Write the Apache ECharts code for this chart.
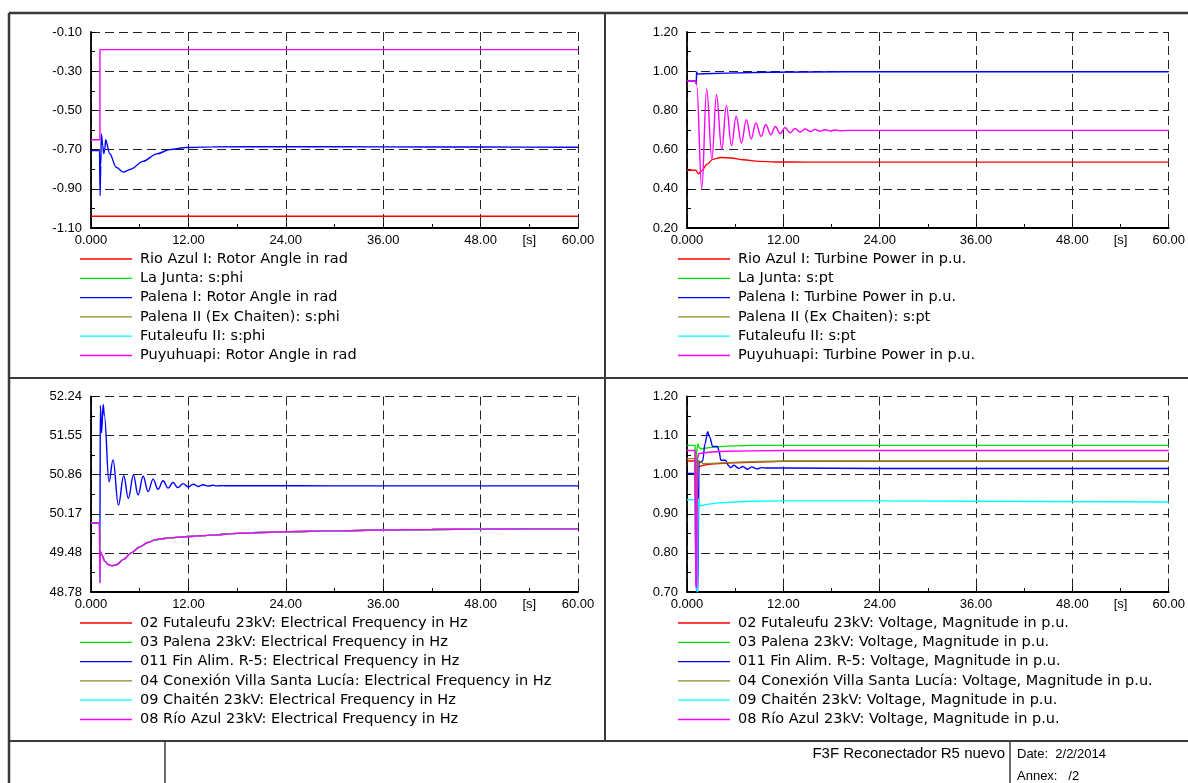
<!DOCTYPE html>
<html><head><meta charset="utf-8">
<script src="https://cdn.jsdelivr.net/npm/echarts@6/dist/echarts.min.js"></script>
<style>html,body{margin:0;padding:0;background:#fff}#c{width:1188px;height:783px}</style>
</head><body><div id="c"></div>
<script>
// ---------------- DATA ----------------
const xRange = [0, 60, 12];              // min, max, interval (s)
const yRangeTL = [-1.10, -0.10, 0.20];
const yRangeTR = [0.20, 1.20, 0.20];
const yRangeBL = [48.784, 52.24, 0.6912];
const yRangeBR = [0.70, 1.20, 0.10];

const colors = ['#ff0000', '#00e000', '#0000ff', '#8a8a20', '#00ffff', '#ff00ff'];

const namesTL = ['Rio Azul I: Rotor Angle in rad', 'La Junta: s:phi', 'Palena I: Rotor Angle in rad',
  'Palena II (Ex Chaiten): s:phi', 'Futaleufu II: s:phi', 'Puyuhuapi: Rotor Angle in rad'];
const namesTR = ['Rio Azul I: Turbine Power in p.u.', 'La Junta: s:pt', 'Palena I: Turbine Power in p.u.',
  'Palena II (Ex Chaiten): s:pt', 'Futaleufu II: s:pt', 'Puyuhuapi: Turbine Power in p.u.'];
const namesBL = ['02 Futaleufu 23kV: Electrical Frequency in Hz', '03 Palena 23kV: Electrical Frequency in Hz',
  '011 Fin Alim. R-5: Electrical Frequency in Hz', '04 Conexión Villa Santa Lucía: Electrical Frequency in Hz',
  '09 Chaitén 23kV: Electrical Frequency in Hz', '08 Río Azul 23kV: Electrical Frequency in Hz'];
const namesBR = ['02 Futaleufu 23kV: Voltage, Magnitude in p.u.', '03 Palena 23kV: Voltage, Magnitude in p.u.',
  '011 Fin Alim. R-5: Voltage, Magnitude in p.u.', '04 Conexión Villa Santa Lucía: Voltage, Magnitude in p.u.',
  '09 Chaitén 23kV: Voltage, Magnitude in p.u.', '08 Río Azul 23kV: Voltage, Magnitude in p.u.'];

// Top-left: rotor angles (rad)
const tlRedT = [0, 60];
const tlRedV = [-1.04, -1.04];
const tlBlueT = [0, 1.05, 1.12, 1.2, 1.28, 1.45, 1.57, 1.7, 1.8, 2.3, 3.1, 4.0, 4.9, 6.4, 8.1, 9.7, 11.8, 15, 24, 36, 48, 60];
const tlBlueV = [-0.705, -0.705, -0.935, -0.78, -0.62, -0.68, -0.72, -0.70, -0.65, -0.72, -0.79, -0.815, -0.80, -0.76, -0.722, -0.70, -0.689, -0.686, -0.685, -0.686, -0.687, -0.688];
const tlMagT = [0, 1.1, 1.1, 60];
const tlMagV = [-0.65, -0.65, -0.19, -0.19];

// Top-right: turbine power (p.u.)
const trRedT = [0, 1.1, 1.4, 1.8, 2.5, 3.2, 4.2, 5.5, 7, 9, 11, 15, 60];
const trRedV = [0.495, 0.495, 0.477, 0.49, 0.525, 0.55, 0.56, 0.557, 0.548, 0.54, 0.537, 0.536, 0.536];
const trBlueT = [0, 1.1, 1.15, 1.2, 1.3, 2, 5, 10, 20, 60];
const trBlueV = [0.95, 0.95, 0.935, 0.998, 0.985, 0.987, 0.99, 0.995, 0.997, 0.997];
const trMagT = [0, 1.1, 1.2, 1.84, 2.45, 3.1, 3.67, 4.33, 4.9, 5.55, 6.12, 6.78, 7.39, 8.0, 8.57, 9.23, 9.8, 10.45, 11.0, 11.6,
  12.2, 12.85, 13.45, 14.1, 14.7, 15.35, 15.95, 16.6, 17.2, 17.85, 18.45, 19.1, 20, 30, 60];
const trMagV = [0.95, 0.95, 0.93, 0.40, 0.91, 0.552, 0.88, 0.60, 0.824, 0.62, 0.77, 0.634, 0.752, 0.654, 0.736, 0.667, 0.727, 0.676, 0.718, 0.681,
  0.713, 0.686, 0.708, 0.69, 0.705, 0.692, 0.703, 0.694, 0.701, 0.695, 0.70, 0.696, 0.698, 0.698, 0.698];

// Bottom-left: electrical frequency (Hz)
const blSysT = [0, 1.05, 1.1, 1.15, 1.3, 1.7, 2.1, 2.6, 3.2, 4.0, 5.0, 6.0, 7.0, 8.0, 9.0, 10.5, 12, 15, 18, 24, 30, 36, 42, 48, 54, 60];
const blSysV = [50.0, 50.0, 48.95, 49.5, 49.45, 49.33, 49.27, 49.25, 49.27, 49.36, 49.48, 49.58, 49.66, 49.71, 49.73, 49.75, 49.765, 49.79, 49.82, 49.85, 49.865, 49.88, 49.89, 49.895, 49.9, 49.9];
const blBlueT = [0, 1.05, 1.1, 1.15, 1.3, 1.5, 1.65, 2.22, 2.71, 3.38, 4.03, 4.6, 5.23, 5.8, 6.42, 7.03, 7.65, 8.26, 8.88, 9.5, 10.1, 10.7,
  11.35, 12.0, 12.6, 13.2, 13.8, 14.4, 15.0, 15.6, 16.2, 17, 20, 30, 60];
const blBlueV = [50.0, 50.0, 49.65, 52.08, 51.6, 52.1, 51.9, 50.73, 51.12, 50.32, 50.84, 50.44, 50.85, 50.5, 50.83, 50.56, 50.78, 50.6, 50.75, 50.62, 50.72, 50.63,
  50.70, 50.64, 50.69, 50.65, 50.68, 50.655, 50.67, 50.66, 50.665, 50.662, 50.662, 50.66, 50.66];

// Bottom-right: voltage magnitude (p.u.)
const brRedT = [0, 1.0, 1.1, 1.25, 1.4, 2, 3, 5, 8, 12, 60];
const brRedV = [1.035, 1.035, 0.75, 1.0, 1.02, 1.024, 1.027, 1.03, 1.032, 1.034, 1.034];
const brGreenT = [0, 1.0, 1.1, 1.2, 1.35, 1.45, 1.7, 2.0, 3, 5, 8, 60];
const brGreenV = [1.075, 1.075, 0.72, 1.06, 1.079, 1.072, 1.066, 1.067, 1.07, 1.073, 1.075, 1.075];
const brBlueT = [0, 1.05, 1.15, 1.35, 1.5, 1.95, 2.25, 2.57, 2.85, 3.19, 3.8, 4.0, 4.21, 4.82, 5.1, 5.43, 5.84, 6.45, 6.94, 7.55, 8.08, 8.69, 9.31, 10, 12, 24, 36, 48, 60];
const brBlueV = [1.003, 1.003, 0.70, 0.70, 1.03, 1.035, 1.08, 1.11, 1.095, 1.072, 1.072, 1.06, 1.037, 1.037, 1.025, 1.018, 1.024, 1.016, 1.021, 1.014, 1.020, 1.015, 1.018, 1.017, 1.017, 1.016, 1.016, 1.016, 1.016];
const brOliveT = [0, 1.0, 1.1, 1.25, 1.45, 2, 3, 5, 8, 12, 60];
const brOliveV = [1.041, 1.041, 0.76, 1.0, 1.037, 1.028, 1.029, 1.031, 1.033, 1.035, 1.035];
const brCyanT = [0, 1.0, 1.1, 1.3, 1.4, 1.6, 2.5, 4, 6, 8, 12, 24, 36, 60];
const brCyanV = [0.936, 0.936, 0.72, 0.70, 0.939, 0.92, 0.924, 0.928, 0.93, 0.932, 0.933, 0.933, 0.932, 0.93];
const brMagT = [0, 1.0, 1.1, 1.2, 1.3, 1.45, 1.8, 3, 5, 8, 12, 60];
const brMagV = [1.062, 1.062, 0.72, 0.71, 1.04, 1.054, 1.055, 1.058, 1.06, 1.061, 1.062, 1.062];

const footerTitle = 'F3F Reconectador R5 nuevo';
const footerDate = 'Date:  2/2/2014';
const footerAnnex = 'Annex:   /2';

// ---------------- CHART ----------------
const FONT = "'Liberation Sans', Arial, sans-serif";
const LFONT = "'DejaVu Sans', 'Liberation Sans', sans-serif";
const pair = (T, V) => T.map((t, i) => [t, V[i]]);

const panels = [
  {names: namesTL, y: yRangeTL, grid: {left: 91, top: 32, width: 487, height: 196}, legend: {left: 80, top: 251},
   data: [[tlRedT, tlRedV], [[], []], [tlBlueT, tlBlueV, 0.3], [[], []], [[], []], [tlMagT, tlMagV]]},
  {names: namesTR, y: yRangeTR, grid: {left: 687, top: 32, width: 487, height: 196}, legend: {left: 678, top: 251},
   data: [[trRedT, trRedV, 0.3], [[], []], [trBlueT, trBlueV], [[], []], [[], []], [trMagT, trMagV, 0.4]]},
  {names: namesBL, y: yRangeBL, grid: {left: 91, top: 396.5, width: 487, height: 195.5}, legend: {left: 80, top: 615},
   data: [[blSysT, blSysV, 0.3], [blSysT, blSysV, 0.3], [blBlueT, blBlueV, 0.4], [blSysT, blSysV, 0.3], [blSysT, blSysV, 0.3], [blSysT, blSysV, 0.3]]},
  {names: namesBR, y: yRangeBR, grid: {left: 687, top: 396.5, width: 487, height: 195.5}, legend: {left: 678, top: 615},
   data: [[brRedT, brRedV], [brGreenT, brGreenV], [brBlueT, brBlueV, 0.3], [brOliveT, brOliveV], [brCyanT, brCyanV], [brMagT, brMagV]]}
];

const axisCommon = {
  axisLine: {show: true, onZero: false, lineStyle: {color: '#000', width: 1.8}},
  axisTick: {show: true, inside: true, length: 5, lineStyle: {color: '#000', width: 1}},
  minorTick: {show: true, splitNumber: 2, length: 4, lineStyle: {color: '#000', width: 1}},
  splitLine: {show: true, lineStyle: {color: '#222', width: 1, type: [9, 5]}},
  axisLabel: {color: '#000', fontFamily: FONT, fontSize: 13}
};

const grid = [], xAxis = [], yAxis = [], series = [], legend = [];
panels.forEach((p, gi) => {
  grid.push(Object.assign({show: false, containLabel: false}, p.grid));
  xAxis.push(Object.assign({}, axisCommon, {
    type: 'value', gridIndex: gi, min: xRange[0], max: xRange[1], interval: xRange[2],
    axisLabel: Object.assign({}, axisCommon.axisLabel, {margin: 6, showMaxLabel: true,
      formatter: v => v === 0 ? '0.000' : v.toFixed(2)})
  }));
  yAxis.push(Object.assign({}, axisCommon, {
    type: 'value', gridIndex: gi, min: p.y[0], max: p.y[1], interval: p.y[2],
    axisLabel: Object.assign({}, axisCommon.axisLabel, {margin: 9, formatter: v => v.toFixed(2)})
  }));
  p.names.forEach((name, k) => {
    const d = p.data[k];
    series.push({
      type: 'line', name, xAxisIndex: gi, yAxisIndex: gi,
      data: pair(d[0], d[1]), showSymbol: false, symbol: 'none',
      smooth: d[2] || false, smoothMonotone: 'x',
      color: colors[k],
      lineStyle: {color: colors[k], width: 1.4}, itemStyle: {color: colors[k]},
      z: 2 + k, animation: false
    });
  });
  legend.push({
    data: p.names.map((n, k) => ({name: n, icon: 'rect', itemStyle: {color: colors[k], opacity: 1}})),
    orient: 'vertical', left: p.legend.left, top: p.legend.top,
    itemWidth: 52, itemHeight: 1.3, itemGap: 3.3, selectedMode: false,
    inactiveColor: colors[5],
    padding: 0, textStyle: {color: '#000', fontFamily: LFONT, fontSize: 14.5, lineHeight: 16, padding: [0, 0, 0, 3]}
  });
});

const chart = echarts.init(document.getElementById('c'), null, {renderer: 'canvas'});
chart.setOption({animation: false, backgroundColor: '#fff', grid, xAxis, yAxis, series, legend});

// frame, footer, and "[s]" unit labels
const frame = '#3a3a3a';
const ln = (x1, y1, x2, y2, w) => ({type: 'line', shape: {x1, y1, x2, y2}, style: {stroke: frame, lineWidth: w}, silent: true, z: 100});
const graphic = [
  ln(9, 13, 1188, 13, 2.5),
  ln(9, 13, 9, 783, 2.5),
  ln(605, 13, 605, 741, 2),
  ln(9, 378, 1188, 378, 2.2),
  ln(9, 741, 1188, 741, 2),
  ln(165, 741, 165, 783, 1.5),
  ln(1010, 741, 1010, 783, 1.5),
  {type: 'text', x: 1005, y: 754, style: {text: footerTitle, fill: '#000', font: '15px ' + FONT, textAlign: 'right', textVerticalAlign: 'middle'}},
  {type: 'text', x: 1017, y: 754, style: {text: footerDate, fill: '#000', font: '13px ' + FONT, textAlign: 'left', textVerticalAlign: 'middle'}},
  {type: 'text', x: 1017, y: 776, style: {text: footerAnnex, fill: '#000', font: '13px ' + FONT, textAlign: 'left', textVerticalAlign: 'middle'}}
];
panels.forEach((p, gi) => {
  const px = chart.convertToPixel({xAxisIndex: gi}, 54);
  const py = chart.convertToPixel({yAxisIndex: gi}, p.y[0]);
  graphic.push({type: 'text', x: px, y: py + 6, style: {text: '[s]', fill: '#000', font: '13px ' + FONT, textAlign: 'center', textVerticalAlign: 'top'}});
});
chart.setOption({graphic});
</script>
</body></html>
